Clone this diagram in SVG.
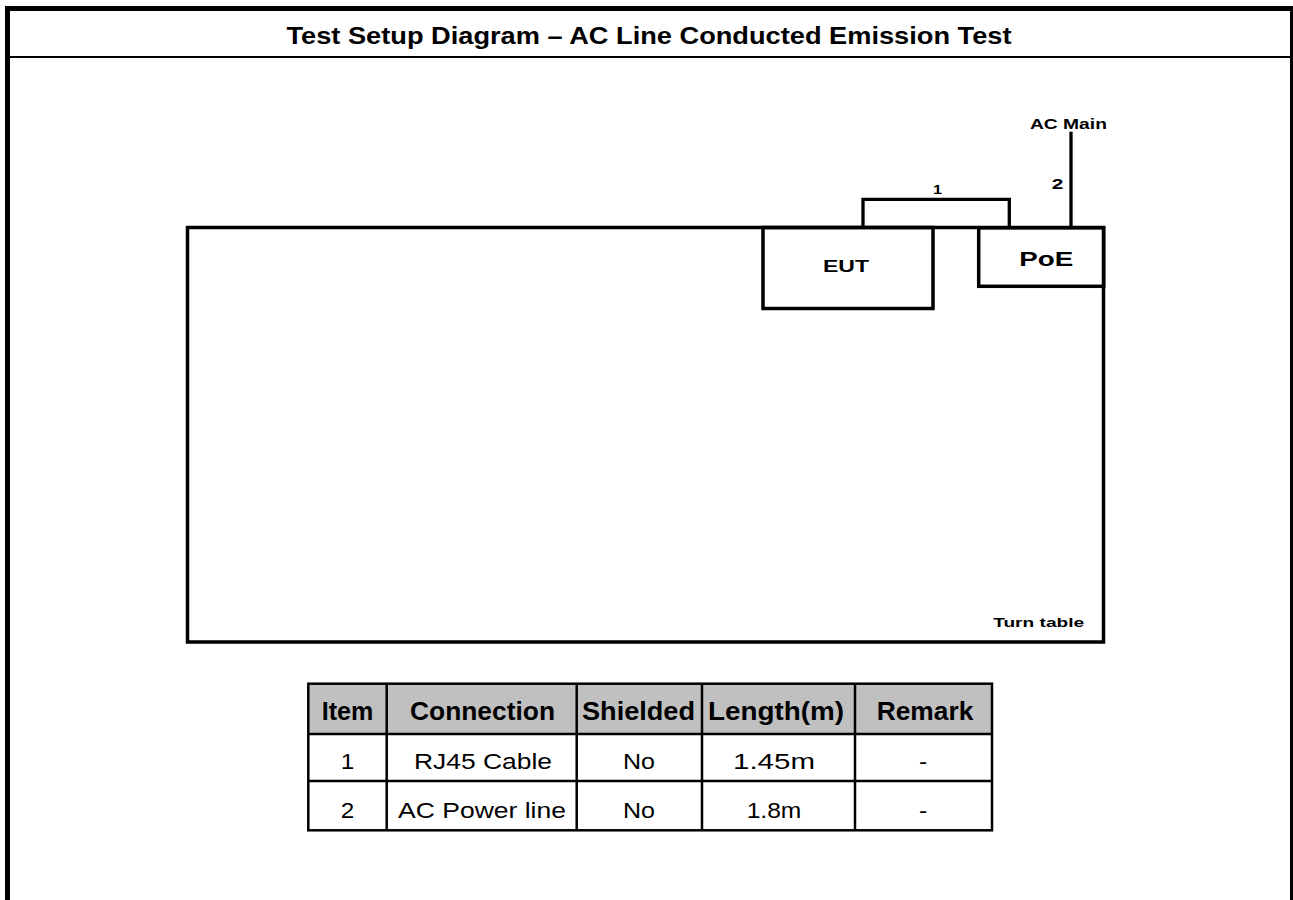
<svg xmlns="http://www.w3.org/2000/svg" width="1293" height="900" viewBox="0 0 1293 900">
<style>
.b{font-family:"Liberation Sans",Arial,sans-serif;font-weight:bold;fill:#000;text-anchor:middle}
.r{font-family:"Liberation Sans",Arial,sans-serif;fill:#000;text-anchor:middle}
.box{fill:none;stroke:#000;stroke-width:3.5}
.wire{fill:none;stroke:#000;stroke-width:3.3}
.grid{stroke:#000;stroke-width:2.5;fill:none}
</style>
<rect width="1293" height="900" fill="#fff"/>
<g id="frame">
<rect x="7.5" y="8.5" width="1285" height="1000" fill="none" stroke="#000" stroke-width="5"/>
<line x1="7" y1="57" x2="1293" y2="57" stroke="#000" stroke-width="2"/>
<text class="b" x="649" y="44" font-size="23" textLength="725" lengthAdjust="spacingAndGlyphs">Test Setup Diagram – AC Line Conducted Emission Test</text>
</g>
<g id="turntable">
<rect class="box" x="187.5" y="227.5" width="916" height="414.5"/>
<text class="b" x="1038.7" y="627.3" font-size="13" textLength="91" lengthAdjust="spacingAndGlyphs">Turn table</text>
</g>
<g id="eut">
<rect class="box" x="763" y="227.5" width="170" height="81"/>
<text class="b" x="846" y="272.3" font-size="17" textLength="46" lengthAdjust="spacingAndGlyphs">EUT</text>
</g>
<g id="poe">
<rect class="box" x="978.7" y="227.8" width="125" height="58.5"/>
<text class="b" x="1046.3" y="265.7" font-size="19.5" textLength="54" lengthAdjust="spacingAndGlyphs">PoE</text>
</g>
<g id="connectors">
<polyline class="wire" points="863,227 863,199.3 1009.3,199.3 1009.3,227"/>
<line class="wire" x1="1071" y1="131.7" x2="1071" y2="228"/>
<text class="b" x="937.5" y="194" font-size="13" textLength="9" lengthAdjust="spacingAndGlyphs">1</text>
<text class="b" x="1057.5" y="189.3" font-size="15" textLength="11.6" lengthAdjust="spacingAndGlyphs">2</text>
<text class="b" x="1068.4" y="129.3" font-size="15" textLength="77" lengthAdjust="spacingAndGlyphs">AC Main</text>
</g>
<g id="table">
<rect x="308.3" y="683.7" width="683.7" height="50.3" fill="#c0c0c0"/>
<rect class="grid" x="308.3" y="683.7" width="683.7" height="146.6"/>
<line class="grid" x1="308.3" y1="734" x2="992" y2="734"/>
<line class="grid" x1="308.3" y1="781" x2="992" y2="781"/>
<line class="grid" x1="386.7" y1="683.7" x2="386.7" y2="830.3"/>
<line class="grid" x1="576.7" y1="683.7" x2="576.7" y2="830.3"/>
<line class="grid" x1="702" y1="683.7" x2="702" y2="830.3"/>
<line class="grid" x1="855" y1="683.7" x2="855" y2="830.3"/>
<text class="b" x="347.5" y="720" font-size="25" textLength="51.6" lengthAdjust="spacingAndGlyphs">Item</text>
<text class="b" x="482.5" y="720" font-size="25" textLength="145" lengthAdjust="spacingAndGlyphs">Connection</text>
<text class="b" x="638.5" y="720" font-size="25" textLength="113" lengthAdjust="spacingAndGlyphs">Shielded</text>
<text class="b" x="776" y="720" font-size="25" textLength="136" lengthAdjust="spacingAndGlyphs">Length(m)</text>
<text class="b" x="925" y="720" font-size="25" textLength="96.7" lengthAdjust="spacingAndGlyphs">Remark</text>
<text class="r" x="347.5" y="769.3" font-size="22.5" textLength="13.5" lengthAdjust="spacingAndGlyphs">1</text>
<text class="r" x="483" y="769.3" font-size="22.5" textLength="138" lengthAdjust="spacingAndGlyphs">RJ45 Cable</text>
<text class="r" x="639" y="769.3" font-size="22.5" textLength="32" lengthAdjust="spacingAndGlyphs">No</text>
<text class="r" x="774" y="769.3" font-size="22.5" textLength="82" lengthAdjust="spacingAndGlyphs">1.45m</text>
<text class="r" x="923" y="769.3" font-size="22.5" textLength="8.2" lengthAdjust="spacingAndGlyphs">-</text>
<text class="r" x="347.5" y="818.3" font-size="22.5" textLength="13.5" lengthAdjust="spacingAndGlyphs">2</text>
<text class="r" x="482" y="818.3" font-size="22.5" textLength="168" lengthAdjust="spacingAndGlyphs">AC Power line</text>
<text class="r" x="639" y="818.3" font-size="22.5" textLength="32" lengthAdjust="spacingAndGlyphs">No</text>
<text class="r" x="774" y="818.3" font-size="22.5" textLength="54.7" lengthAdjust="spacingAndGlyphs">1.8m</text>
<text class="r" x="923" y="818.3" font-size="22.5" textLength="8.2" lengthAdjust="spacingAndGlyphs">-</text>
</g>
</svg>
